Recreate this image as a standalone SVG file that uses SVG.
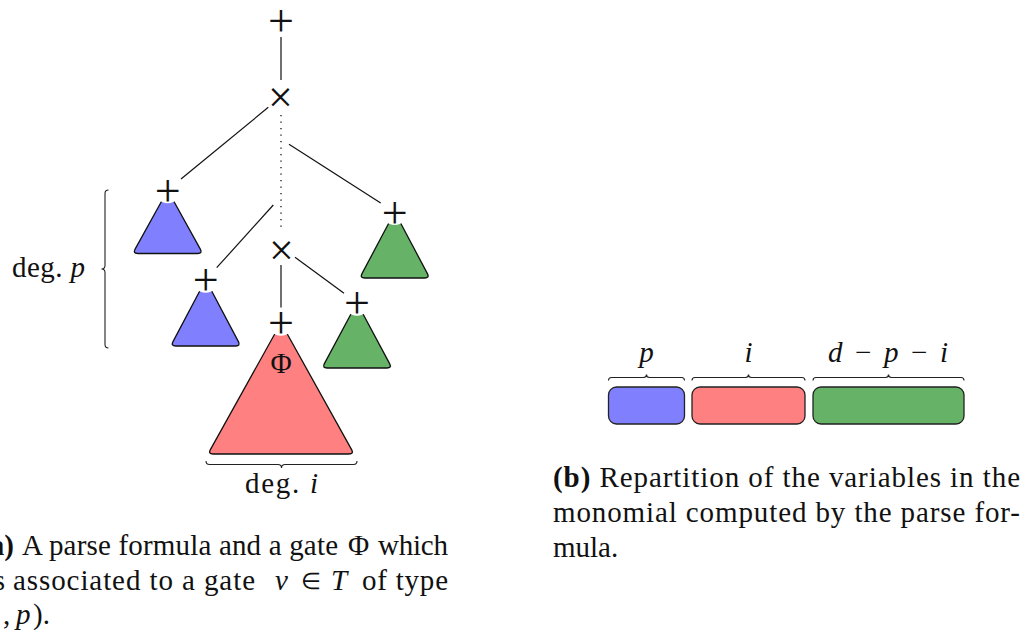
<svg xmlns="http://www.w3.org/2000/svg" width="1032" height="639" viewBox="0 0 1032 639">
  <style>
    text { font-family: "Liberation Serif", "Times New Roman", serif; fill: #111; }
    .op { font-size: 46px; text-anchor: middle; }
    .times { font-size: 44px; text-anchor: middle; }
    .lbl { font-size: 29px; }
    .cap { font-size: 29px; }
    .it { font-style: italic; }
    .bf { font-weight: bold; }
    .edge { stroke: #111; stroke-width: 1.2; fill: none; }
    .dots { stroke: #111; stroke-width: 1.3; fill: none; stroke-dasharray: 1.3 5.2; }
    .brace { stroke: #222; stroke-width: 1.1; fill: none; }
    .tri { stroke: #111; stroke-width: 1.3; stroke-linejoin: round; }
    .blue { fill: #8080ff; }
    .red { fill: #ff8080; }
    .green { fill: #66b266; }
    .halo { fill: #fff; }
    .bar { stroke: #222; stroke-width: 1.3; }
  </style>

  <!-- (a) parse formula -->
  <g id="connectors">
    <line class="edge" x1="281" y1="37" x2="281" y2="80"/>
    <line class="edge" x1="268.3" y1="107.3" x2="181" y2="179"/>
    <line class="dots" x1="281" y1="115" x2="281" y2="231"/>
    <line class="edge" x1="289" y1="144.3" x2="380.7" y2="203"/>
    <line class="edge" x1="273.3" y1="205" x2="216.7" y2="267.7"/>
    <line class="edge" x1="281" y1="265" x2="281" y2="307.5"/>
    <line class="edge" x1="295" y1="257.3" x2="344" y2="293.3"/>
  </g>

  <g id="root-plus">
    <text class="op" x="281" y="36.4">+</text>
  </g>

  <g id="top-times">
    <text class="times" x="280.5" y="112.3">×</text>
  </g>

  <g id="plus-blue-1">
    <path class="tri blue" d="M167.7,190.3 L135.1,249.1 Q132.7,253.5 137.7,253.5 L197.7,253.5 Q202.7,253.5 200.3,249.1 Z"/>
    <circle class="halo" cx="167.7" cy="190.3" r="13"/>
    <text class="op" x="167.7" y="205.9">+</text>
  </g>

  <g id="plus-blue-2">
    <path class="tri blue" d="M205.7,279.7 L173.0,341.6 Q170.7,346 175.7,346 L235.7,346 Q240.7,346 238.4,341.6 Z"/>
    <circle class="halo" cx="205.7" cy="279.7" r="13"/>
    <text class="op" x="205.7" y="295.3">+</text>
  </g>

  <g id="inner-times">
    <text class="times" x="281.3" y="264.6">×</text>
  </g>

  <g id="gate-phi">
    <path class="tri red" d="M281,322.7 L210.4,449.6 Q208,454 213,454 L349,454 Q354,454 351.6,449.6 Z"/>
    <circle class="halo" cx="281" cy="322.7" r="13"/>
    <text class="op" x="281" y="338.3">+</text>
    <text class="lbl" x="281" y="373" text-anchor="middle">Φ</text>
  </g>

  <g id="plus-green-1">
    <path class="tri green" d="M394.7,212 L362.0,273.6 Q359.7,278 364.7,278 L424.7,278 Q429.7,278 427.4,273.6 Z"/>
    <circle class="halo" cx="394.7" cy="212" r="13"/>
    <text class="op" x="394.7" y="227.6">+</text>
  </g>

  <g id="plus-green-2">
    <path class="tri green" d="M357,302.7 L324.4,363.6 Q322,368 327,368 L387,368 Q392,368 389.6,363.6 Z"/>
    <circle class="halo" cx="357" cy="302.7" r="13"/>
    <text class="op" x="357" y="318.3">+</text>
  </g>

  <g id="deg-p">
    <path class="brace" d="M108.5,190 Q105,190 105,193.5 L105,265.5 Q105,269 101.5,269 Q105,269 105,272.5 L105,344.5 Q105,348 108.5,348"/>
    <text class="lbl" x="12" y="277" textLength="73">deg. <tspan class="it">p</tspan></text>
  </g>

  <g id="deg-i">
    <path class="brace" d="M206,461 Q206,464.5 209.5,464.5 L278,464.5 Q281.5,464.5 281.5,468 Q281.5,464.5 285,464.5 L353.5,464.5 Q357,464.5 357,461"/>
    <text class="lbl" x="245" y="493" textLength="73">deg. <tspan class="it">i</tspan></text>
  </g>

  <!-- caption (a) -->
  <g id="caption-a">
    <text class="cap bf" x="14" y="555" text-anchor="end">(a)</text>
    <text class="cap" x="22" y="555" textLength="316">A parse formula and a gate</text>
    <text class="cap" x="348" y="555">Φ</text>
    <text class="cap" x="378" y="555" textLength="70">which</text>
    <text class="cap" x="5" y="590" text-anchor="end">is</text>
    <text class="cap" x="13" y="590" textLength="242">associated to a gate</text>
    <text class="cap it" x="275" y="590">v</text>
    <text class="cap" x="311" y="589" text-anchor="middle" style="font-size:23px">∈</text>
    <text class="cap it" x="331" y="590">T</text>
    <text class="cap" x="362" y="590" textLength="86">of type</text>
    <text class="cap" x="3" y="624">,</text>
    <text class="cap it" x="16" y="624">p</text>
    <text class="cap" x="33" y="624">).</text>
  </g>

  <!-- (b) repartition of the variables -->
  <g id="part-p">
    <rect class="bar blue" x="608.5" y="387" width="76" height="37" rx="8"/>
    <path class="brace" d="M608.5,380.5 Q608.5,377.5 611.5,377.5 L643.5,377.5 Q646.5,377.5 646.5,374.5 Q646.5,377.5 649.5,377.5 L681.5,377.5 Q684.5,377.5 684.5,380.5"/>
    <text class="lbl it" x="646.5" y="362" text-anchor="middle">p</text>
  </g>

  <g id="part-i">
    <rect class="bar red" x="692" y="387" width="113" height="37" rx="8"/>
    <path class="brace" d="M692,380.5 Q692,377.5 695,377.5 L745.5,377.5 Q748.5,377.5 748.5,374.5 Q748.5,377.5 751.5,377.5 L802,377.5 Q805,377.5 805,380.5"/>
    <text class="lbl it" x="748.5" y="362" text-anchor="middle">i</text>
  </g>

  <g id="part-rest">
    <rect class="bar green" x="813" y="387" width="151" height="37" rx="8"/>
    <path class="brace" d="M813,380.5 Q813,377.5 816,377.5 L885.5,377.5 Q888.5,377.5 888.5,374.5 Q888.5,377.5 891.5,377.5 L961,377.5 Q964,377.5 964,380.5"/>
    <text class="lbl" x="828" y="362" textLength="120"><tspan class="it">d</tspan> − <tspan class="it">p</tspan> − <tspan class="it">i</tspan></text>
  </g>

  <!-- caption (b) -->
  <g id="caption-b">
    <text class="cap" x="553" y="487" textLength="467"><tspan class="bf">(b)</tspan> Repartition of the variables in the</text>
    <text class="cap" x="553" y="522" textLength="467">monomial computed by the parse for-</text>
    <text class="cap" x="553" y="557">mula.</text>
  </g>
</svg>
